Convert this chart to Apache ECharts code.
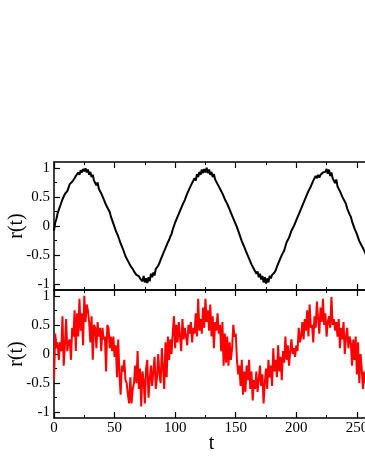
<!DOCTYPE html>
<html>
<head>
<meta charset="utf-8">
<script src="https://cdn.jsdelivr.net/npm/echarts@6/dist/echarts.min.js"></script>
<style>
html, body { margin: 0; padding: 0; background: #fff; }
#chart-0 { width: 365px; height: 473px; }
</style>
</head>
<body>
<div id="chart-0"></div>
<script>
// t runs 0,1,2,... one value per step
var topSeries = [
    -0.08, 0.06, 0.12, 0.22, 0.24, 0.34, 0.36, 0.46, 0.48, 0.55,
    0.56, 0.6, 0.6, 0.72, 0.7, 0.76, 0.78, 0.82, 0.86, 0.83,
    0.92, 0.88, 0.96, 0.92, 0.98, 0.94, 0.99, 0.92, 0.97, 0.88,
    0.93, 0.84, 0.88, 0.78, 0.8, 0.7, 0.75, 0.64, 0.64, 0.56,
    0.56, 0.46, 0.46, 0.36, 0.34, 0.28, 0.24, 0.16, 0.14, 0.04,
    0.02, -0.08, -0.1, -0.18, -0.2, -0.3, -0.32, -0.4, -0.4, -0.52,
    -0.5, -0.6, -0.6, -0.68, -0.7, -0.74, -0.78, -0.8, -0.84, -0.84,
    -0.86, -0.9, -0.88, -0.95, -0.86, -0.97, -0.9, -0.98, -0.88, -0.95,
    -0.82, -0.88, -0.8, -0.85, -0.74, -0.74, -0.68, -0.64, -0.58, -0.56,
    -0.48, -0.46, -0.38, -0.35, -0.28, -0.24, -0.18, -0.14, -0.06, -0.04,
    0.06, 0.06, 0.16, 0.16, 0.26, 0.28, 0.36, 0.38, 0.45, 0.48,
    0.56, 0.55, 0.65, 0.64, 0.74, 0.72, 0.82, 0.78, 0.89, 0.84,
    0.93, 0.88, 0.97, 0.91, 0.98, 0.92, 1.0, 0.91, 0.97, 0.88,
    0.93, 0.84, 0.89, 0.8, 0.82, 0.72, 0.74, 0.64, 0.66, 0.56,
    0.56, 0.46, 0.47, 0.38, 0.38, 0.28, 0.3, 0.18, 0.18, 0.08,
    0.08, -0.02, -0.02, -0.14, -0.14, -0.26, -0.26, -0.36, -0.36, -0.46,
    -0.46, -0.56, -0.56, -0.66, -0.64, -0.74, -0.72, -0.82, -0.78, -0.88,
    -0.82, -0.92, -0.86, -0.97, -0.88, -0.99, -0.9, -0.97, -0.86, -0.9,
    -0.84, -0.82, -0.8, -0.76, -0.7, -0.72, -0.6, -0.62, -0.5, -0.52,
    -0.42, -0.42, -0.28, -0.3, -0.2, -0.2, -0.08, -0.1, 0.0, 0.02,
    0.1, 0.12, 0.2, 0.23, 0.3, 0.32, 0.4, 0.42, 0.5, 0.5,
    0.6, 0.58, 0.68, 0.68, 0.78, 0.8, 0.86, 0.82, 0.88, 0.83,
    0.88, 0.86, 0.92, 0.95, 0.93, 0.98, 0.9, 0.97, 0.86, 0.92,
    0.82, 0.84, 0.74, 0.8, 0.68, 0.68, 0.6, 0.6, 0.5, 0.48,
    0.42, 0.38, 0.3, 0.28, 0.2, 0.16, 0.08, 0.06, -0.04, -0.06,
    -0.14, -0.16, -0.26, -0.26, -0.34, -0.34, -0.42, -0.44, -0.52, -0.54
];
var bottomSeries = [
    -0.45, 0.35, 0.1, 0.2, -0.1, 0.2, 0.05, 0.65, -0.2, 0.15,
    0.6, 0.05, 0.2, 0.25, -0.1, 0.45, 0.3, 0.75, 0.05, 0.7,
    0.3, 0.95, 0.4, 0.7, 0.15, 1.0, 0.55, 0.85, 0.75, 0.55,
    0.2, 0.65, -0.1, 0.5, 0.45, 0.1, 0.55, 0.3, 0.45, 0.05,
    0.45, 0.25, 0.3, -0.3, 0.5, 0.45, 0.1, 0.3, 0.05, 0.3,
    -0.05, 0.15, -0.4, 0.25, -0.35, -0.7, -0.2, -0.3, -0.1, -0.45,
    -0.5, -0.7, -0.85, -0.4, -0.85, -0.6, -0.5, -0.2, -0.5, 0.05,
    -0.6, -0.25, -0.9, -0.3, -0.45, -0.85, -0.25, -0.1, -0.75, -0.45,
    -0.2, -0.55, -0.3, -0.05, -0.6, -0.4, 0.0, -0.35, -0.5, 0.1,
    -0.25, -0.6, 0.2, -0.4, 0.3, -0.1, 0.25, 0.0, 0.35, 0.65,
    0.1, 0.5, 0.2, 0.55, 0.3, 0.05, 0.6, 0.25, 0.45, 0.3,
    0.15, 0.5, 0.35, 0.55, 0.2, 0.45, 0.35, 0.7, 0.3, 0.95,
    0.4, 0.6, 0.35, 0.8, 0.45, 0.95, 0.55, 0.75, 0.4, 0.85,
    0.3, 0.65, 0.1, 0.55, 0.4, 0.7, 0.35, 0.5, 0.05, 0.55,
    -0.2, 0.35, -0.15, 0.3, -0.2, 0.2, -0.1, 0.1, 0.5, 0.3,
    0.35, -0.1, -0.35, -0.2, -0.55, -0.1, -0.7, -0.3, -0.65, -0.2,
    -0.45, -0.1, -0.6, -0.3, -0.8, -0.45, -0.6, -0.3, -0.65, -0.45,
    -0.2, -0.55, -0.35, -0.85, -0.5, -0.25, -0.6, -0.1, -0.4, -0.2,
    -0.55, 0.1, -0.3, -0.1, -0.4, 0.15, -0.3, -0.05, -0.45, 0.05,
    -0.15, 0.3, -0.1, 0.15, -0.2, 0.05, 0.25, 0.0, 0.1, -0.05,
    0.15, 0.05, 0.45, 0.2, 0.3, 0.55, 0.25, 0.6, 0.4, 0.75,
    0.3, 0.85, 0.45, 0.5, 0.2, 0.65, 0.45, 0.9, 0.6, 0.35,
    0.8, 0.55, 0.95, 0.5, 0.7, 0.3, 0.55, 0.65, 0.45, 0.98,
    0.5, 0.6, 0.4, 0.55, 0.3, 0.6, 0.1, 0.45, 0.25, 0.55,
    0.0, 0.3, 0.45, 0.1, 0.3, 0.2, -0.2, 0.25, -0.1, 0.3,
    -0.35, 0.2, -0.5, 0.0, -0.25, -0.6, -0.3, -0.5, -0.1, -0.6
];
var xTickLabels = [0, 50, 100, 150, 200, 250];
var yTickLabels = [-1, -0.5, 0, 0.5, 1];
var yMinorTicks = [-0.75, -0.25, 0.25, 0.75];

var font = 'Liberation Serif';
var axisLine = { show: true, onZero: false, lineStyle: { color: '#000', width: 1.5 } };

function pairs(values) {
    var out = [];
    for (var i = 0; i < values.length; i++) {
        out.push([i, values[i]]);
    }
    return out;
}

function XAxis(gridIndex, position, labels) {
    return {
        type: 'value',
        gridIndex: gridIndex,
        position: position,
        min: 0,
        max: 260,
        interval: 50,
        axisLine: axisLine,
        axisTick: { show: true, inside: true, length: 6, lineStyle: { color: '#000', width: 1.2 } },
        minorTick: { show: true, splitNumber: 2, length: 3, lineStyle: { color: '#000', width: 1 } },
        splitLine: { show: false },
        axisLabel: {
            show: labels,
            customValues: xTickLabels,
            margin: 3,
            fontFamily: font,
            fontSize: 15,
            color: '#000'
        },
        name: labels ? 't' : '',
        nameLocation: 'middle',
        nameGap: 16,
        nameMoveOverlap: false,
        nameTextStyle: { fontFamily: font, fontSize: 20, color: '#000' }
    };
}

function YAxis(gridIndex) {
    return {
        type: 'value',
        gridIndex: gridIndex,
        position: 'left',
        min: -1.1,
        max: 1.1,
        axisLine: axisLine,
        axisTick: { show: true, inside: true, length: 6, customValues: yTickLabels, lineStyle: { color: '#000', width: 1.2 } },
        splitLine: { show: false },
        axisLabel: {
            customValues: yTickLabels,
            margin: 4,
            fontFamily: font,
            fontSize: 15,
            color: '#000'
        },
        name: 'r(t)',
        nameLocation: 'middle',
        nameGap: 27,
        nameMoveOverlap: false,
        nameTextStyle: { fontFamily: font, fontSize: 20, color: '#000' }
    };
}

function MinorYAxis(gridIndex) {
    return {
        type: 'value',
        gridIndex: gridIndex,
        position: 'left',
        min: -1.1,
        max: 1.1,
        axisLine: { show: false },
        axisTick: { show: true, inside: true, length: 3, customValues: yMinorTicks, lineStyle: { color: '#000', width: 1 } },
        splitLine: { show: false },
        axisLabel: { show: false }
    };
}

var chart = echarts.init(document.getElementById('chart-0'));
var option = {
    backgroundColor: '#fff',
    animation: false,
    grid: [
        { left: 54, top: 162, width: 315, height: 128, outerBoundsMode: 'none', containLabel: false },
        { left: 54, top: 290, width: 315, height: 128, outerBoundsMode: 'none', containLabel: false }
    ],
    xAxis: [
        XAxis(0, 'bottom', false),
        XAxis(0, 'top', false),
        XAxis(1, 'top', false),
        XAxis(1, 'bottom', true)
    ],
    yAxis: [YAxis(0), MinorYAxis(0), YAxis(1), MinorYAxis(1)],
    series: [
        {
            type: 'line',
            xAxisIndex: 0,
            yAxisIndex: 0,
            data: pairs(topSeries),
            showSymbol: false,
            lineStyle: { color: '#000', width: 2 }
        },
        {
            type: 'line',
            xAxisIndex: 3,
            yAxisIndex: 2,
            data: pairs(bottomSeries),
            showSymbol: false,
            lineStyle: { color: '#ff0000', width: 2 }
        }
    ]
};
chart.setOption(option);
</script>
</body>
</html>
